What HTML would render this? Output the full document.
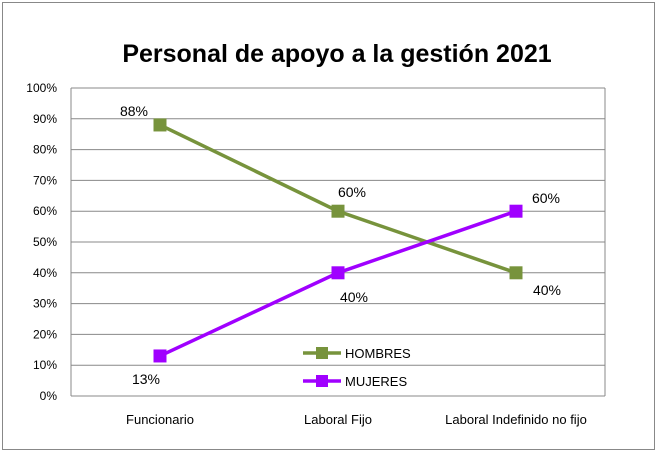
<!DOCTYPE html>
<html><head><meta charset="utf-8"><style>
body{margin:0;background:#fff;}
svg{display:block;font-family:"Liberation Sans",sans-serif;}
</style></head><body>
<svg width="658" height="453">
<rect x="2.5" y="2.5" width="652" height="447" fill="#fff" stroke="#888"/>
<text x="337" y="62" font-size="25" font-weight="bold" text-anchor="middle">Personal de apoyo a la gestión 2021</text>
<g id="grid"></g><g id="ylab"></g><g id="xlab"></g><g id="series"></g><g id="legend"></g>
</svg>
<script>
const categories=["Funcionario","Laboral Fijo","Laboral Indefinido no fijo"];
const hombres=[88,60,40];
const mujeres=[13,40,60];
const yTicks=[0,10,20,30,40,50,60,70,80,90,100];
const L=71,R=605,T=88,B=396;
const ns="http://www.w3.org/2000/svg";
const y=v=>B-(B-T)*v/100;
const x=i=>L+(R-L)/categories.length*(i+0.5);
function mk(t,a,p){const e=document.createElementNS(ns,t);for(const k in a)e.setAttribute(k,a[k]);document.getElementById(p).appendChild(e);return e;}
yTicks.forEach(v=>{
 const g=mk('line',{x1:L,x2:R,y1:y(v),y2:y(v),stroke:'#888','stroke-width':1},'grid');
 
 
 const t=mk('text',{x:L-14,y:y(v)+4,'font-size':12,'text-anchor':'end'},'ylab');t.textContent=v+'%';
 
 
});
mk('line',{x1:L,x2:L,y1:T,y2:B,stroke:'#888'},'grid');
mk('line',{x1:R,x2:R,y1:T,y2:B,stroke:'#888'},'grid');
categories.forEach((c,i)=>{
 const t=mk('text',{x:x(i),y:424,'font-size':13,'text-anchor':'middle'},'xlab');t.textContent=c;
 
 
});
function series(data,color,name,offs){
 const pts=data.map((v,i)=>x(i)+','+y(v)).join(' ');
 const l=mk('polyline',{points:pts,fill:'none',stroke:color,'stroke-width':3.5},'series');
 
 
 data.forEach((v,i)=>{
  const m=mk('rect',{x:x(i)-6.5,y:y(v)-6.5,width:13,height:13,fill:color},'series');
  
  
  const t=mk('text',{x:x(i)+offs[i][0],y:y(v)+offs[i][1],'font-size':14,'text-anchor':'middle'},'series');t.textContent=v+'%';
  
  
 });
}
series(hombres,'#77933c','hombres',[[-26,-9],[14,-14],[31,22]]);
series(mujeres,'#a000ff','mujeres',[[-14,28],[16,29],[30,-8]]);
[['HOMBRES','#77933c',353],['MUJERES','#a000ff',381]].forEach(([n,c,yy])=>{
 const l=mk('line',{x1:303,x2:341,y1:yy,y2:yy,stroke:c,'stroke-width':3.5},'legend');
 
 
 mk('rect',{x:316,y:yy-6,width:12,height:12,fill:c},'legend');
 const t=mk('text',{x:345,y:yy+5,'font-size':13},'legend');t.textContent=n;
 
 
});
</script>
</body></html>
